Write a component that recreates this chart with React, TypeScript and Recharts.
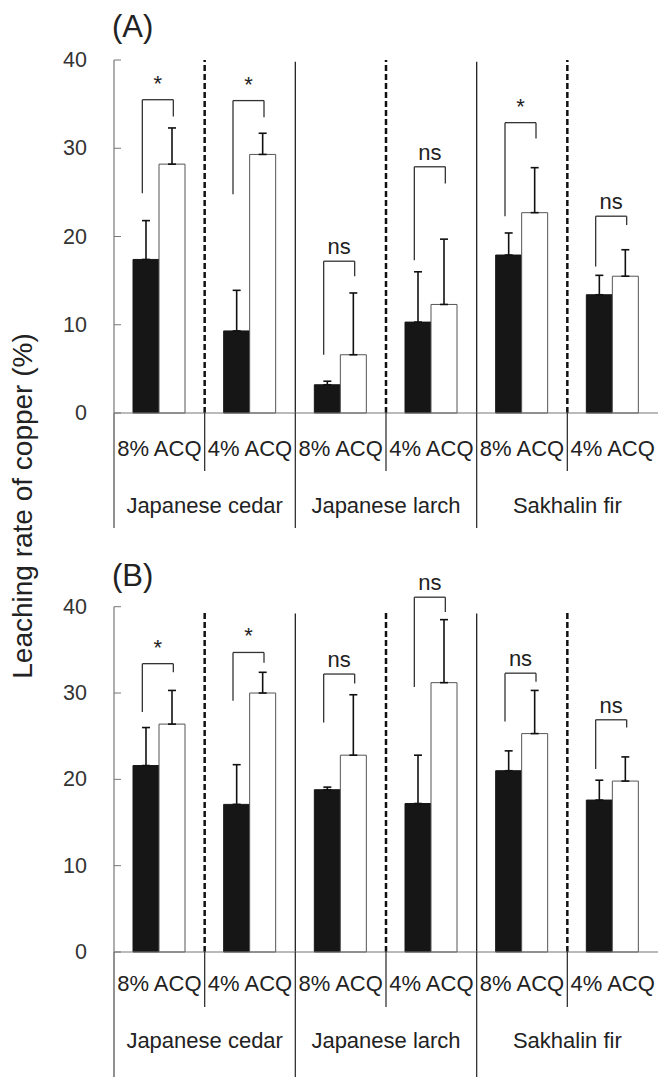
import React from "react";
import { BarChart, Bar, XAxis, YAxis, ErrorBar, ReferenceLine } from "recharts";

const groups = ["8% ACQ", "4% ACQ", "8% ACQ", "4% ACQ", "8% ACQ", "4% ACQ"];
const species = ["Japanese cedar", "Japanese larch", "Sakhalin fir"];
const yTicks = [0, 10, 20, 30, 40];

// (A) means and SD (upper whisker only)
const aBlack = [17.4, 9.3, 3.2, 10.3, 17.9, 13.4];
const aBlackSd = [4.4, 4.6, 0.4, 5.7, 2.5, 2.2];
const aWhite = [28.2, 29.3, 6.6, 12.3, 22.7, 15.5];
const aWhiteSd = [4.1, 2.4, 7.0, 7.4, 5.1, 3.0];
const aBrTop = [35.5, 35.4, 17.2, 27.9, 32.9, 22.3];
const aBrLeft = [24.9, 24.8, 6.6, 17.3, 22.3, 16.6];
const aBrRight = [33.6, 33.5, 15.5, 26.0, 31.1, 21.3];
const aSig = ["*", "*", "ns", "ns", "*", "ns"];

// (B)
const bBlack = [21.6, 17.1, 18.8, 17.2, 21.0, 17.6];
const bBlackSd = [4.4, 4.6, 0.3, 5.6, 2.3, 2.3];
const bWhite = [26.4, 30.0, 22.8, 31.2, 25.3, 19.8];
const bWhiteSd = [3.9, 2.4, 7.0, 7.3, 5.0, 2.8];
const bBrTop = [33.4, 34.7, 32.2, 41.1, 32.3, 26.9];
const bBrLeft = [27.8, 29.1, 26.6, 30.7, 26.7, 21.2];
const bBrRight = [32.4, 33.5, 31.1, 39.4, 31.3, 26.0];
const bSig = ["*", "*", "ns", "ns", "ns", "ns"];

const W = 658;
const AXIS_W = 114;
const FONT = "'Liberation Sans', Arial, sans-serif";
const LEG_L = 17; // bracket legs, px from group centre
const LEG_R = 14;

const YTick = ({ x, y, payload }: any) => (
  <g>
    <line x1={x} x2={x + 7} y1={y} y2={y} stroke="#777" strokeWidth={1} />
    <text x={x - 27} y={y + 7} textAnchor="end" fontSize={21.5} fontFamily={FONT} fill="#333">
      {payload.value}
    </text>
  </g>
);

const GroupTick = ({ x, y, payload, index, lay }: any) => {
  const half = payload.offset || (W - AXIS_W) / 12;
  const even = index % 2 === 0;
  return (
    <g>
      <text x={x} y={y + lay.label} dominantBaseline="central" textAnchor="middle" fontSize={22} fontFamily={FONT} fill="#222">
        {groups[index]}
      </text>
      {index === 0 && <line x1={x - half} x2={x - half} y1={y} y2={y + lay.long} stroke="#555" strokeWidth={1.3} />}
      {even && <line x1={x + half} x2={x + half} y1={y} y2={y + lay.sep} stroke="#333" strokeWidth={1.3} />}
      {!even && index < 5 && <line x1={x + half} x2={x + half} y1={y} y2={y + lay.long} stroke="#333" strokeWidth={1.3} />}
      {even && (
        <text x={x + half} y={y + lay.sp} dominantBaseline="central" textAnchor="middle" fontSize={22} fontFamily={FONT} fill="#222">
          {species[index / 2]}
        </text>
      )}
    </g>
  );
};

const leg = (dx: number) => (p: any) => (
  <line x1={p.x1 + dx} x2={p.x2 + dx} y1={p.y1} y2={p.y2} stroke="#333" strokeWidth={1.3} />
);

const bracketTop = (text: string) => (p: any) => (
  <g>
    <line x1={p.x1 - LEG_L} x2={p.x1 + LEG_R} y1={p.y1} y2={p.y1} stroke="#333" strokeWidth={1.3} />
    <text
      x={p.x1 + (LEG_R - LEG_L) / 2}
      y={p.y1 - (text === "*" ? 9 : 7)}
      textAnchor="middle"
      fontSize={22}
      fontFamily={FONT}
      fill="#222"
    >
      {text}
    </text>
  </g>
);

const Panel = ({ black, blackSd, white, whiteSd, brTop, brLeft, brRight, sig, height, top, lay, dashTop, solidTop }: any) => {
  const data = groups.map((g, i) => ({
    key: `${i}-${g}`,
    black: black[i],
    white: white[i],
    eBlack: [0, blackSd[i]],
    eWhite: [0, whiteSd[i]],
  }));
  return (
    <BarChart width={W} height={height} data={data} margin={{ top, right: 0, bottom: 0, left: 0 }} barSize={26} barGap={0}>
      <XAxis
        dataKey="key"
        height={127}
        interval={0}
        tickSize={0}
        tickMargin={0}
        tickLine={false}
        axisLine={{ stroke: "#777", strokeWidth: 1.2 }}
        tick={(p: any) => <GroupTick {...p} lay={lay} />}
      />
      <YAxis
        width={AXIS_W}
        domain={[0, 40]}
        ticks={yTicks}
        interval={0}
        tickSize={0}
        tickMargin={0}
        tickLine={false}
        axisLine={{ stroke: "#777", strokeWidth: 1.2 }}
        tick={(p: any) => <YTick {...p} />}
      />
      {data.slice(0, 5).map((d, i) => (
        <ReferenceLine
          key={`div${i}`}
          position="end"
          segment={[{ x: d.key, y: 0 }, { x: d.key, y: i % 2 === 0 ? dashTop : solidTop }]}
          stroke={i % 2 === 0 ? "#111" : "#222"}
          strokeWidth={i % 2 === 0 ? 2.5 : 1.3}
          strokeDasharray={i % 2 === 0 ? "6 3" : undefined}
          ifOverflow="visible"
        />
      ))}
      <Bar dataKey="black" fill="#161616" stroke="#161616" isAnimationActive={false}>
        <ErrorBar dataKey="eBlack" width={4} stroke="#111" strokeWidth={1.6} direction="y" />
      </Bar>
      <Bar dataKey="white" fill="#ffffff" stroke="#555" strokeWidth={1} isAnimationActive={false}>
        <ErrorBar dataKey="eWhite" width={4} stroke="#111" strokeWidth={1.6} direction="y" />
      </Bar>
      {data.map((d, i) => (
        <React.Fragment key={`br${i}`}>
          <ReferenceLine position="middle" segment={[{ x: d.key, y: brLeft[i] }, { x: d.key, y: brTop[i] }]} shape={leg(-LEG_L)} ifOverflow="visible" />
          <ReferenceLine position="middle" segment={[{ x: d.key, y: brRight[i] }, { x: d.key, y: brTop[i] }]} shape={leg(LEG_R)} ifOverflow="visible" />
          <ReferenceLine position="middle" segment={[{ x: d.key, y: brTop[i] }, { x: d.key, y: brTop[i] }]} shape={bracketTop(sig[i])} ifOverflow="visible" />
        </React.Fragment>
      ))}
    </BarChart>
  );
};

export default function App() {
  return (
    <div style={{ position: "relative", width: W, height: 1079, background: "#fff" }}>
      <style>{"body{margin:0;background:#fff}"}</style>
      <Panel
        black={aBlack}
        blackSd={aBlackSd}
        white={aWhite}
        whiteSd={aWhiteSd}
        brTop={aBrTop}
        brLeft={aBrLeft}
        brRight={aBrRight}
        sig={aSig}
        height={540}
        top={60}
        lay={{ label: 35, sep: 58, sp: 92, long: 115 }}
        dashTop={40}
        solidTop={39.8}
      />
      <Panel
        black={bBlack}
        blackSd={bBlackSd}
        white={bWhite}
        whiteSd={bWhiteSd}
        brTop={bBrTop}
        brLeft={bBrLeft}
        brRight={bBrRight}
        sig={bSig}
        height={539}
        top={66.7}
        lay={{ label: 31, sep: 55, sp: 88, long: 125 }}
        dashTop={39.4}
        solidTop={39.2}
      />
      <svg width={W} height={1079} style={{ position: "absolute", left: 0, top: 0, pointerEvents: "none" }}>
        <text x={112} y={37} fontSize={31} fontFamily={FONT} fill="#222">(A)</text>
        <text x={112} y={586} fontSize={31} fontFamily={FONT} fill="#222">(B)</text>
        <text transform="translate(32,506) rotate(-90)" textAnchor="middle" fontSize={28} fontFamily={FONT} fill="#222">
          Leaching rate of copper (%)
        </text>
      </svg>
    </div>
  );
}
